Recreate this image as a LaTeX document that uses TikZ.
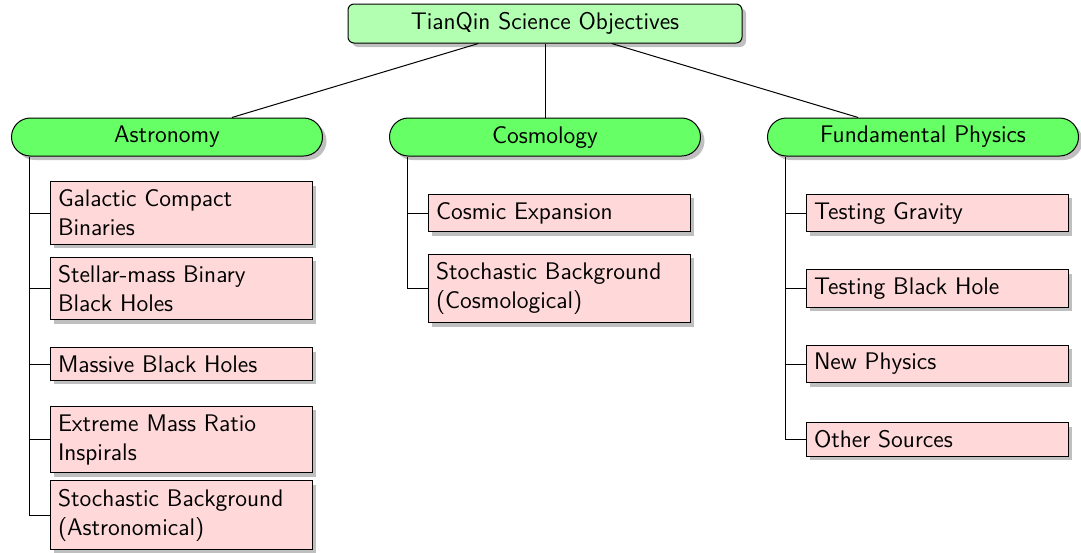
\documentclass[tikz,border=0pt]{standalone}
\usetikzlibrary{shadows}
\begin{document}
\begin{tikzpicture}[x=0.5pt,y=-0.5pt,
  base/.style={draw=black, line width=0.5pt, font=\fontsize{12}{14.5}\selectfont\sffamily,
    drop shadow={shadow xshift=2pt, shadow yshift=-2pt}},
  rootbox/.style={base, fill=green!30, rounded corners=3pt, minimum width=197pt, minimum height=19.5pt, inner sep=0pt},
  catbox/.style={base, fill=green!60, rounded corners=9.5pt, minimum width=155.5pt, minimum height=19pt, inner sep=0pt},
  leafbox/.style={base, fill=red!15, text width=123pt, align=flush left, inner sep=4pt,
    execute at begin node={\hyphenpenalty=10000\exhyphenpenalty=10000}},
  link/.style={black, line width=0.5pt}]
\useasboundingbox (0,0) rectangle (1081,552);

\node[rootbox] (root) at (545,23.5) {TianQin Science Objectives};
\node[catbox] (astro) at (167,137) {Astronomy};
\node[catbox] (cosmo) at (545,137) {Cosmology};
\node[catbox] (fund) at (923,137) {Fundamental Physics};

\node[leafbox] (a1) at (181,213) {Galactic Compact Binaries};
\node[leafbox] (a2) at (181,288.5) {Stellar-mass Binary Black Holes};
\node[leafbox] (a3) at (181,364) {Massive Black Holes};
\node[leafbox] (a4) at (181,439.5) {Extreme Mass Ratio Inspirals};
\node[leafbox] (a5) at (181,515) {Stochastic Background (Astronomical)};

\node[leafbox] (c1) at (559,213) {Cosmic Expansion};
\node[leafbox] (c2) at (559,288.5) {Stochastic Background (Cosmological)};

\node[leafbox] (f1) at (937,213) {Testing Gravity};
\node[leafbox] (f2) at (937,288.5) {Testing Black Hole};
\node[leafbox] (f3) at (937,364) {New Physics};
\node[leafbox] (f4) at (937,439.5) {Other Sources};

\draw[link] (root) -- (astro);
\draw[link] (root) -- (cosmo);
\draw[link] (root) -- (fund);

\foreach \c in {a1,a2,a3,a4,a5}
  \draw[link] ([xshift=9.25pt]astro.south west) |- (\c.west);
\foreach \c in {c1,c2}
  \draw[link] ([xshift=9.25pt]cosmo.south west) |- (\c.west);
\foreach \c in {f1,f2,f3,f4}
  \draw[link] ([xshift=9.25pt]fund.south west) |- (\c.west);
\end{tikzpicture}
\end{document}
